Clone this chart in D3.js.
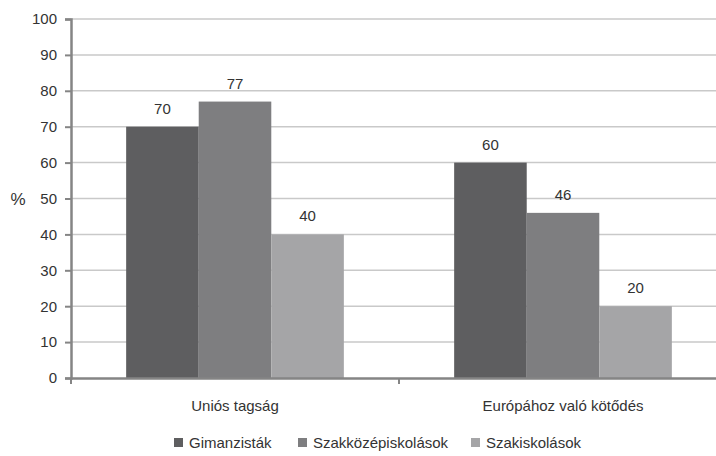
<!DOCTYPE html>
<html>
<head>
<meta charset="utf-8">
<script src="https://cdn.jsdelivr.net/npm/d3@7"></script>
<style>
  body { margin: 0; background: #fff; }
  text { font-family: "Liberation Sans", Arial, sans-serif; fill: #333; }
</style>
</head>
<body>
<div id="chart"></div>
<script>
// chart data
var categories = ["Uniós tagság", "Európához való kötődés"];
var seriesNames = ["Gimanzisták", "Szakközépiskolások", "Szakiskolások"];
var gimValues = [70, 60];
var szkValues = [77, 46];
var szaValues = [40, 20];
var yTicks = [0, 10, 20, 30, 40, 50, 60, 70, 80, 90, 100];

var colors = ["#5e5e60", "#7e7e80", "#a5a5a7"];

var svgWidth = 716;
var svgHeight = 456;

var margin = { top: 19, right: -11, bottom: 78, left: 71 };
var width = svgWidth - margin.left - margin.right;
var height = svgHeight - margin.top - margin.bottom;

var svg = d3.select("#chart")
    .append("svg")
    .attr("width", svgWidth)
    .attr("height", svgHeight);

var chartGroup = svg.append("g")
    .attr("transform", `translate(${margin.left}, ${margin.top})`);

// scales
var x0 = d3.scaleBand()
    .domain(categories)
    .range([0, width])
    .paddingInner(0)
    .paddingOuter(0);

var x1 = d3.scaleBand()
    .domain(seriesNames)
    .range([0, x0.bandwidth()])
    .paddingOuter(0.76)
    .paddingInner(0);

var y = d3.scaleLinear()
    .domain([0, 100])
    .range([height, 0]);

// gridlines
chartGroup.selectAll(".grid")
    .data(yTicks.filter(d => d > 0))
    .enter()
    .append("line")
    .attr("class", "grid")
    .attr("x1", 0)
    .attr("x2", width)
    .attr("y1", d => y(d))
    .attr("y2", d => y(d))
    .attr("stroke", "#c9c9c9")
    .attr("stroke-width", 1.5);

// build rows for bars
var rows = categories.map(function(c, i) {
    return [
        { cat: c, name: seriesNames[0], value: gimValues[i], color: colors[0] },
        { cat: c, name: seriesNames[1], value: szkValues[i], color: colors[1] },
        { cat: c, name: seriesNames[2], value: szaValues[i], color: colors[2] }
    ];
});

var groups = chartGroup.selectAll(".cat")
    .data(rows)
    .enter()
    .append("g")
    .attr("class", "cat")
    .attr("transform", (d, i) => `translate(${x0(categories[i])}, 0)`);

groups.selectAll("rect")
    .data(d => d)
    .enter()
    .append("rect")
    .attr("x", d => x1(d.name))
    .attr("width", x1.bandwidth())
    .attr("y", d => y(d.value))
    .attr("height", d => height - y(d.value))
    .attr("fill", d => d.color);

groups.selectAll(".value-label")
    .data(d => d)
    .enter()
    .append("text")
    .attr("class", "value-label")
    .attr("x", d => x1(d.name) + x1.bandwidth() / 2)
    .attr("y", d => y(d.value) - 13)
    .attr("text-anchor", "middle")
    .style("font-size", "15px")
    .text(d => d.value);

// y axis
var leftAxis = d3.axisLeft(y)
    .tickValues(yTicks)
    .tickSize(6)
    .tickPadding(8);

var yAxis = chartGroup.append("g")
    .call(leftAxis);
yAxis.select(".domain").attr("stroke", "#858585").attr("stroke-width", 2.5);
yAxis.selectAll(".tick line").attr("stroke", "#858585").attr("stroke-width", 2);
yAxis.selectAll(".tick text").style("font-size", "15px").attr("fill", "#333");

// x axis
var bottomAxis = d3.axisBottom(x0)
    .tickSize(0)
    .tickPadding(22);

var xAxis = chartGroup.append("g")
    .attr("transform", `translate(0, ${height})`)
    .call(bottomAxis);
xAxis.select(".domain").attr("stroke", "#858585").attr("stroke-width", 2.5);
xAxis.selectAll(".tick text").style("font-size", "15px").attr("fill", "#333");

// category boundary ticks
chartGroup.selectAll(".bound")
    .data(categories)
    .enter()
    .append("line")
    .attr("class", "bound")
    .attr("x1", d => x0(d))
    .attr("x2", d => x0(d))
    .attr("y1", height)
    .attr("y2", height + 6)
    .attr("stroke", "#858585")
    .attr("stroke-width", 2);

// % label
svg.append("text")
    .attr("x", 18)
    .attr("y", margin.top + y(50) + 6)
    .attr("text-anchor", "middle")
    .style("font-size", "17px")
    .text("%");

// legend
var legendX = [174, 298, 471];
var legend = svg.selectAll(".legend")
    .data(seriesNames)
    .enter()
    .append("g")
    .attr("class", "legend")
    .attr("transform", (d, i) => `translate(${legendX[i]}, 443)`);

legend.append("rect")
    .attr("x", 0)
    .attr("y", -5)
    .attr("width", 9)
    .attr("height", 9)
    .attr("fill", (d, i) => colors[i]);

legend.append("text")
    .attr("x", 15)
    .attr("y", 5)
    .style("font-size", "15px")
    .text(d => d);
</script>
</body>
</html>
